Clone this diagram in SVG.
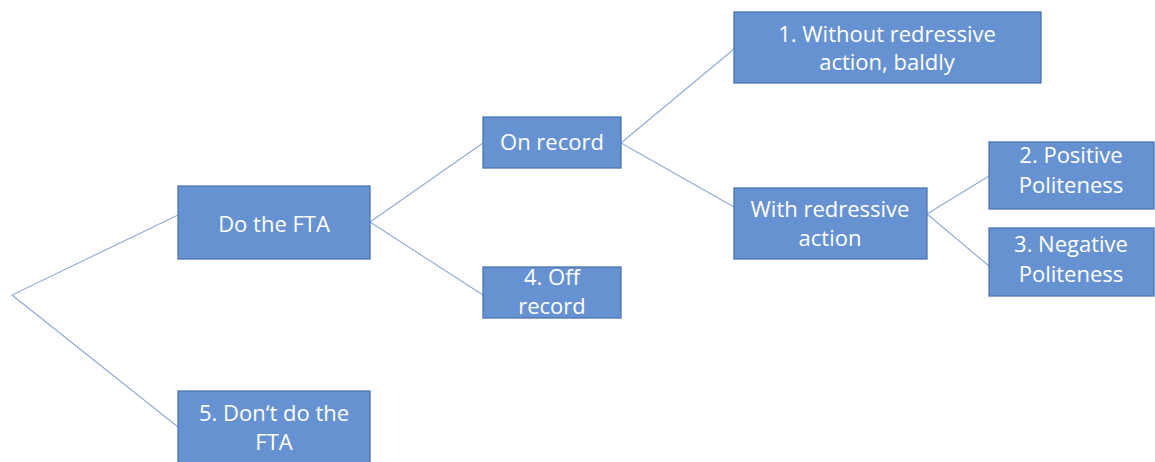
<svg xmlns="http://www.w3.org/2000/svg" width="1155" height="462" viewBox="0 0 1155 462">
<style>
.box{fill:#6792d1;stroke:#4a76b0;stroke-width:1.3}
.t{font-family:"Open Sans","Noto Sans","Liberation Sans",sans-serif;font-size:22px;fill:#ffffff;text-anchor:middle}
.c{stroke:#8eaad8;stroke-width:1.1;fill:none}
</style>
<rect width="1155" height="462" fill="#ffffff"/>
<g id="connectors">
<polyline class="c" points="178,215 12,295 178,427"/>
<line class="c" x1="370" y1="222" x2="483" y2="143"/>
<line class="c" x1="370" y1="222" x2="483" y2="295"/>
<line class="c" x1="621" y1="143" x2="734" y2="49"/>
<line class="c" x1="621" y1="143" x2="734" y2="207"/>
<line class="c" x1="927" y1="214" x2="989" y2="176"/>
<line class="c" x1="927" y1="214" x2="989" y2="266"/>
</g>
<g id="do-fta"><rect class="box" x="178" y="186" width="192" height="73"/><text class="t" x="274" y="232">Do the FTA</text></g>
<g id="dont-fta"><rect class="box" x="178" y="391" width="192" height="75"/><text class="t" x="274" y="421">5. Don‘t do the</text><text class="t" x="274" y="450">FTA</text></g>
<g id="on-record"><rect class="box" x="483" y="117" width="138" height="51"/><text class="t" x="552" y="150">On record</text></g>
<g id="off-record"><rect class="box" x="483" y="267" width="138" height="51"/><text class="t" x="552" y="285">4. Off</text><text class="t" x="552" y="314">record</text></g>
<g id="without"><rect class="box" x="734" y="12" width="307" height="71"/><text class="t" x="887" y="42">1. Without redressive</text><text class="t" x="887" y="70">action, baldly</text></g>
<g id="with"><rect class="box" x="734" y="188" width="193" height="71"/><text class="t" x="830" y="217">With redressive</text><text class="t" x="830" y="246">action</text></g>
<g id="positive"><rect class="box" x="989" y="142" width="165" height="67"/><text class="t" x="1071" y="163">2. Positive</text><text class="t" x="1071" y="193">Politeness</text></g>
<g id="negative"><rect class="box" x="989" y="228" width="165" height="68"/><text class="t" x="1071" y="252">3. Negative</text><text class="t" x="1071" y="282">Politeness</text></g>
</svg>
